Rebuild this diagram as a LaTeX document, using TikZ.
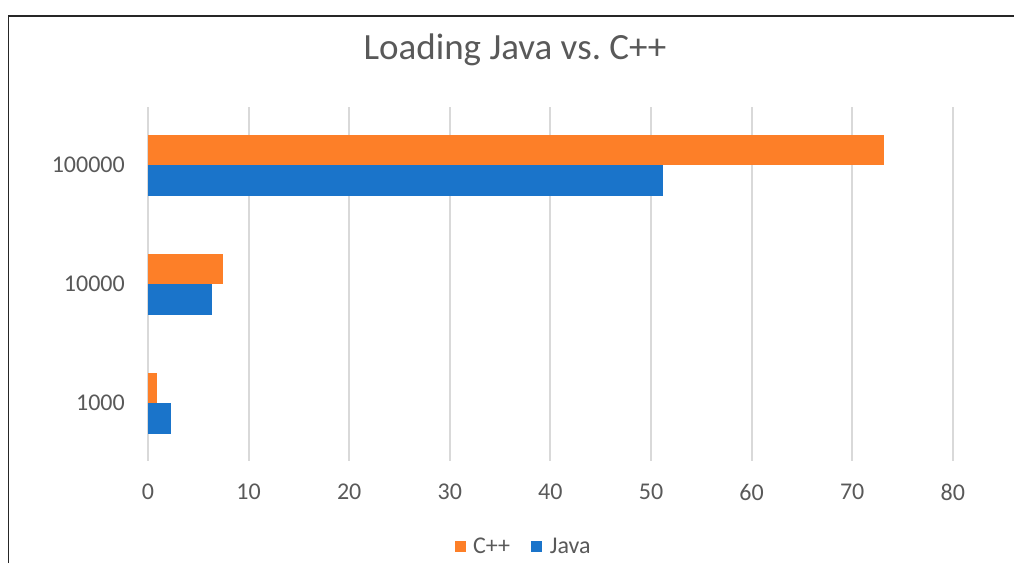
\documentclass[tikz,border=0pt]{standalone}
\usepackage{fontspec}
\setmainfont{Carlito}
\usetikzlibrary{positioning}
\definecolor{cppcol}{RGB}{253,127,40}
\definecolor{javacol}{RGB}{26,116,202}
\definecolor{txtcol}{RGB}{89,89,89}
\definecolor{gridcol}{RGB}{217,217,217}

\begin{document}
\begin{tikzpicture}[x=1pt, y=-1pt,
    grid line/.style = {draw=gridcol, line width=2pt},
    key/.style = {minimum size=11pt, inner sep=0pt},
    lbl/.style = {text=txtcol, font=\fontsize{24}{28}\selectfont, inner sep=0pt}]
  \useasboundingbox (0,0) rectangle (1014,563);
  % frame (cut at the right and bottom)
  \draw[line width=1.6pt, black!85] (8.5,563) -- (8.5,16) -- (1014,16);
  % title
  \node[text=txtcol, font=\fontsize{37}{44}\selectfont] (title) at (515,50) {Loading Java vs.\ C++};
  % value axis
  \foreach \v in {0,10,...,80} {
    \draw[grid line] (148+10.06*\v,107) -- (148+10.06*\v,461);
    \node[lbl] (tick\v) at (148+10.06*\v,492) {\v};
  }
  % bars: category, centre y, C++ value, Java value
  \foreach \cat/\y/\cpp/\java in {100000/165/73.2/51.2, 10000/284/7.45/6.4, 1000/403/0.9/2.3} {
    \fill[cppcol] (148,\y-30.5) rectangle (148+10.06*\cpp,\y);
    \fill[javacol] (148,\y) rectangle (148+10.06*\java,\y+30.5);
    \node[lbl, anchor=east] (cat\cat) at (125,\y) {\cat};
  }
  % legend
  \node[lbl, anchor=west] (legcpp) at (473,546) {C++};
  \node[key, fill=cppcol, left=7pt of legcpp] (keycpp) {};
  \node[key, fill=javacol, right=21pt of legcpp] (keyjava) {};
  \node[lbl, right=7pt of keyjava] (legjava) {Java};
\end{tikzpicture}
\end{document}
